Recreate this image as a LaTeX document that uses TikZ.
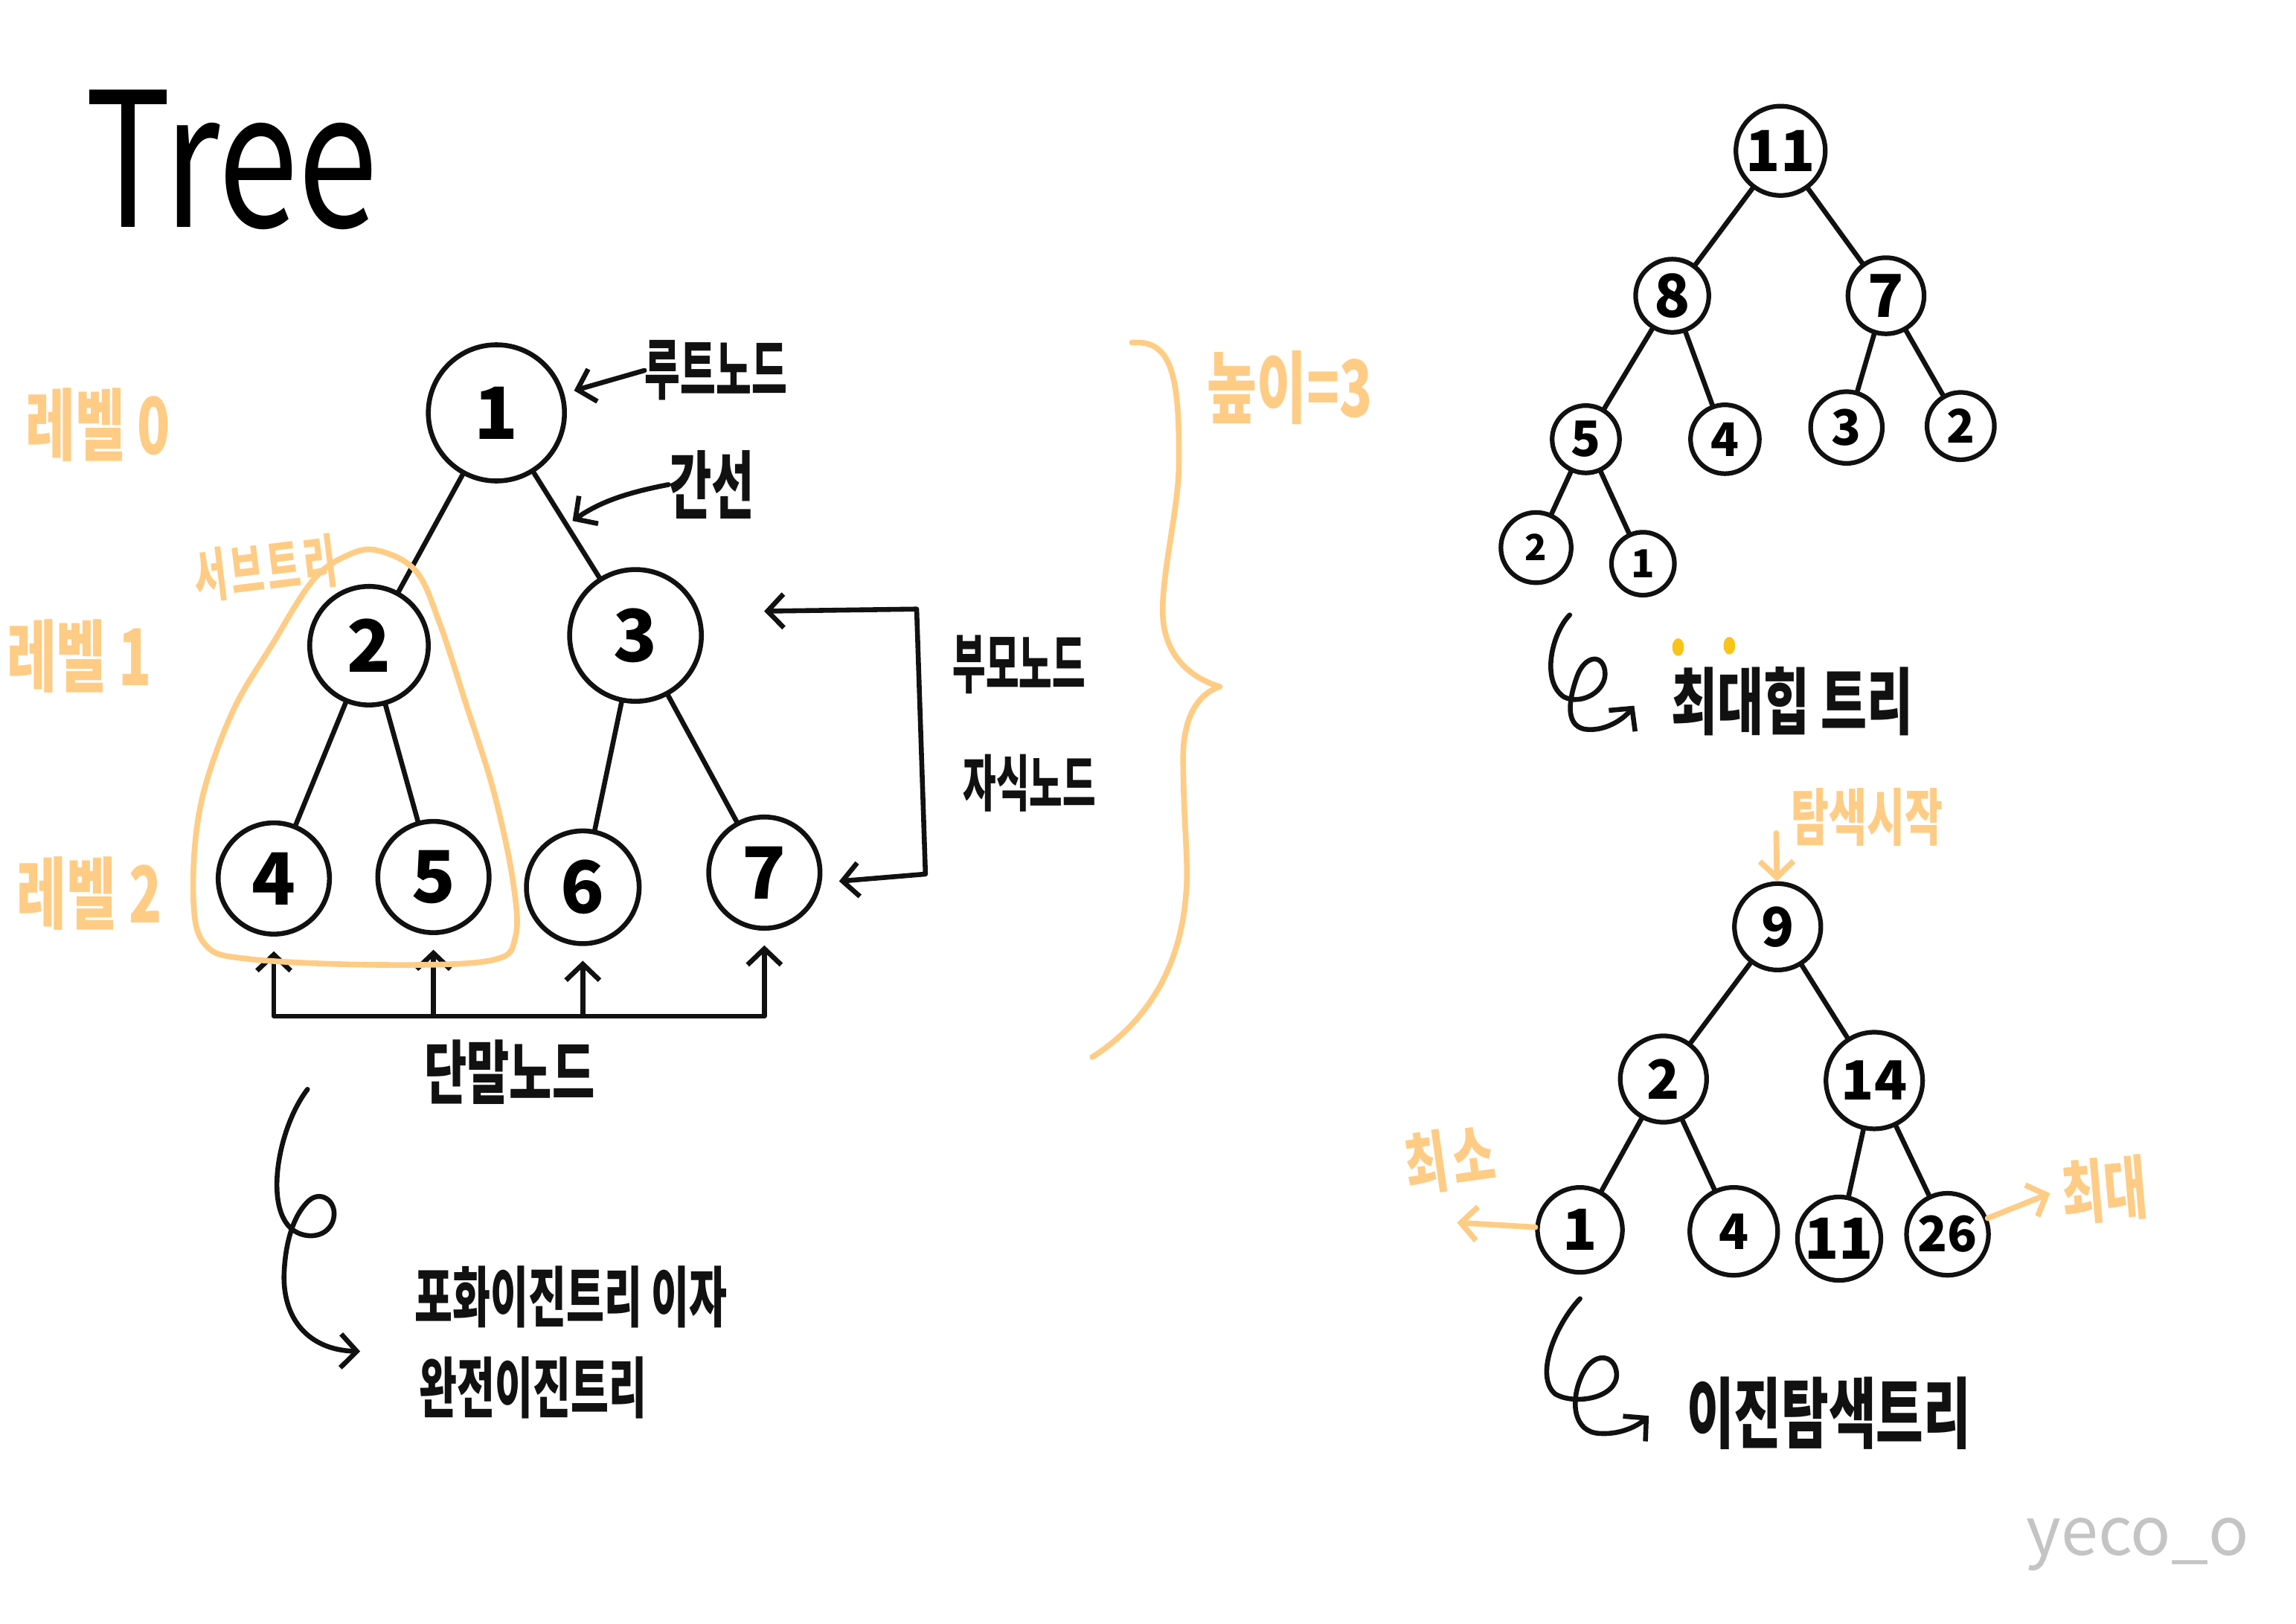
\documentclass[tikz,border=0pt]{standalone}
\usepackage{graphicx}
\usepackage{fontspec}
\setmainfont{Noto Sans CJK KR}
\usetikzlibrary{positioning,arrows.meta,calc}
\definecolor{inkblack}{HTML}{111111}
\definecolor{hlorange}{HTML}{FFCC85}
\definecolor{dotyellow}{HTML}{F8C41A}
\definecolor{signgray}{HTML}{C4C4C4}
\newcommand{\hw}[2][1.6]{\scalebox{1}[#1]{#2}}
\tikzset{
  barb/.tip   ={Straight Barb[length=2.2mm,width=4.6mm]},
  vtx/.style  ={circle,draw=inkblack,line width=1.9pt,inner sep=0pt,font=\fontsize{28}{30}\selectfont\bfseries},
  hvtx/.style ={vtx,line width=1.8pt,font=\fontsize{20}{22}\selectfont\bfseries},
  tvtx/.style ={vtx,line width=1.8pt,font=\fontsize{14}{15}\selectfont\bfseries},
  edge/.style ={draw=inkblack,line width=1.9pt,line cap=round},
  arr/.style  ={-barb,line width=1.9pt,line cap=round,line join=round,draw=inkblack},
  darr/.style ={arr,barb-barb},
  oarr/.style ={arr,draw=hlorange,line width=2.2pt},
  oline/.style={draw=hlorange,line width=2.2pt,line cap=round,line join=round},
  lbl/.style  ={inner sep=0pt,text=inkblack,font=\fontsize{16}{18}\selectfont\bfseries},
  olbl/.style ={inner sep=0pt,text=hlorange,font=\fontsize{21}{23}\selectfont\bfseries},
}
\begin{document}
\begin{tikzpicture}[x=0.2mm,y=-0.2mm]
  \fill[white] (0,0) rectangle (1568,1109);
  \useasboundingbox (0,0) rectangle (1568,1109);

  \node[inner sep=0pt,font=\fontsize{56}{60}\selectfont] (title) at (158,109) {\hw[1.3]{Tree}};

  % binary tree
  \node[vtx,minimum size=18.6mm] (n1) at (339,282) {1};
  \node[vtx,minimum size=16.2mm] (n2) at (252,441) {2};
  \node[vtx,minimum size=18mm]   (n3) at (434,434) {3};
  \node[vtx,minimum size=15.2mm] (n4) at (187,600) {4};
  \node[vtx,minimum size=15.2mm] (n5) at (296,599) {5};
  \node[vtx,minimum size=15.4mm] (n6) at (398,606) {6};
  \node[vtx,minimum size=15.2mm] (n7) at (522,596) {7};

  \draw[edge] (n1) -- (n2);
  \draw[edge] (n1) -- coordinate[pos=0.5] (e13) (n3);
  \draw[edge] (n2) -- (n4);
  \draw[edge] (n2) -- (n5);
  \draw[edge] (n3) -- (n6);
  \draw[edge] (n3) -- (n7);

  \node[lbl,font=\fontsize{15}{17}\selectfont\bfseries] (rootlbl) at (489,253) {\hw[1.7]{루트노드}};
  \node[lbl,font=\fontsize{18}{20}\selectfont\bfseries] (edgelbl) at (486,331) {\hw[1.6]{간선}};
  \draw[arr,shorten >=1.4mm] (rootlbl.west) -- (n1);
  \draw[arr,shorten >=1mm] (edgelbl.west) .. controls (425,337) and (408,344) .. (e13);

  \node[lbl,font=\fontsize{14}{16}\selectfont\bfseries] (parlbl) at (696,454) {\hw[1.8]{부모노드}};
  \node[lbl,font=\fontsize{14}{16}\selectfont\bfseries] (chilbl) at (703,535) {\hw[1.7]{자식노드}};
  \coordinate (pt) at (626,416);
  \coordinate (pb) at (632,597);
  \draw[darr,shorten <=8.8mm,shorten >=2.4mm] (n3.20) -- (pt) -- (pb) -- (n7.-10);

  \coordinate (leafbase) at (355,694);
  \draw[darr,shorten <=2mm,shorten >=2mm] (n4) |- (leafbase) -| (n7);
  \draw[arr,shorten >=2mm] (n5 |- leafbase) -- (n5);
  \draw[arr,shorten >=2mm] (n6 |- leafbase) -- (n6);
  \node[lbl,font=\fontsize{18}{20}\selectfont\bfseries] (leaflbl) at (348,732) {\hw[1.5]{단말노드}};

  \coordinate (c1s) at (210,744);
  \coordinate (c1e) at (246,923);
  \draw[arr] (c1s) .. controls (190,770) and (180,825) .. (200,840) .. controls (208,846) and (222,846) .. (227,835)
    .. controls (232,822) and (220,812) .. (211,820) .. controls (202,828) and (195,845) .. (194,870)
    .. controls (193,900) and (210,922) .. (c1e);
  \node[lbl] (fulllbl) at (390,886) {\hw[1.6]{포화이진트리 이자}};
  \node[lbl] (complbl) at (364,948) {\hw[1.6]{완전이진트리}};

  % orange notes
  \node[olbl] (lv0) at (67,290) {\hw[1.45]{레벨 0}};
  \node[olbl] (lv1) at (54,448) {\hw[1.45]{레벨 1}};
  \node[olbl] (lv2) at (61,610) {\hw[1.45]{레벨 2}};
  \node[olbl,font=\fontsize{14}{16}\selectfont\bfseries\addfontfeature{LetterSpace=10},rotate=7] (sublbl) at (181,388) {\hw[1.6]{서브트리}};
  \draw[oline] plot[smooth cycle,tension=0.6] coordinates {(258,376) (284,390) (300,425) (318,480) (337,540) (350,600) (352,640) (335,656) (260,659) (170,655) (140,645) (132,612) (137,550) (158,488) (186,440) (214,396) (238,379)};

  \draw[oline] (773,234) .. controls (800,232) and (806,255) .. (805,321) .. controls (804,350) and (794,390) .. (794,417)
    .. controls (794,445) and (810,462) .. (833,469) .. controls (815,475) and (808,495) .. (808,517)
    .. controls (808,560) and (812,590) .. (810,610) .. controls (806,665) and (780,700) .. (746,722);
  \node[olbl] (hlbl) at (881,265) {\hw[1.45]{높이=3}};

  % max heap
  \node[hvtx,minimum size=12.2mm,font=\fontsize{22}{24}\selectfont\bfseries] (h11) at (1216,103) {11};
  \node[hvtx,minimum size=10mm,font=\fontsize{23}{24}\selectfont\bfseries] (h8) at (1142,202) {8};
  \node[hvtx,minimum size=10.4mm,font=\fontsize{23}{24}\selectfont\bfseries] (h7) at (1288,202) {7};
  \node[hvtx,minimum size=9.2mm,font=\fontsize{19}{20}\selectfont\bfseries] (h5) at (1083,300) {5};
  \node[hvtx,minimum size=9.4mm,font=\fontsize{18}{20}\selectfont\bfseries] (h4) at (1178,300) {4};
  \node[hvtx,minimum size=9.8mm,font=\fontsize{19}{20}\selectfont\bfseries] (h3) at (1261,292) {3};
  \node[hvtx,minimum size=9.2mm,font=\fontsize{18}{20}\selectfont\bfseries] (h2) at (1339,291) {2};
  \node[tvtx,minimum size=9.6mm] (h2b) at (1049,374) {2};
  \node[tvtx,minimum size=8.6mm,font=\fontsize{15}{16}\selectfont\bfseries] (h1b) at (1122,385) {1};

  \draw[edge] (h11) -- (h8);
  \draw[edge] (h11) -- (h7);
  \draw[edge] (h8) -- (h5);
  \draw[edge] (h8) -- (h4);
  \draw[edge] (h7) -- (h3);
  \draw[edge] (h7) -- (h2);
  \draw[edge] (h5) -- (h2b);
  \draw[edge] (h5) -- (h1b);

  \coordinate (c2s) at (1072,420);
  \coordinate (c2e) at (1116,482);
  \draw[arr] (c2s) .. controls (1060,432) and (1052,465) .. (1068,476) .. controls (1080,482) and (1098,472) .. (1096,458)
    .. controls (1094,446) and (1082,448) .. (1077,462) .. controls (1072,476) and (1068,495) .. (1082,498)
    .. controls (1095,500) and (1108,492) .. (c2e);
  \node[lbl,font=\fontsize{19.5}{21}\selectfont\bfseries] (heaplbl) at (1224,479) {\hw[1.45]{최대힙 트리}};
  \fill[dotyellow] (1146,442) ellipse [x radius=0.8mm,y radius=1.2mm];
  \fill[dotyellow] (1181,441) ellipse [x radius=0.8mm,y radius=1.2mm];

  % binary search tree
  \node[hvtx,minimum size=11.8mm,font=\fontsize{21}{22}\selectfont\bfseries] (b9) at (1214,633) {9};
  \node[hvtx,minimum size=11.8mm,font=\fontsize{21}{22}\selectfont\bfseries] (b2) at (1136,737) {2};
  \node[hvtx,minimum size=13.2mm,font=\fontsize{21}{22}\selectfont\bfseries] (b14) at (1280,738) {14};
  \node[hvtx,minimum size=11.6mm,font=\fontsize{22}{24}\selectfont\bfseries] (b1) at (1079,840) {1};
  \node[hvtx,minimum size=12mm,font=\fontsize{19}{20}\selectfont\bfseries] (b4) at (1184,841) {4};
  \node[hvtx,minimum size=11.4mm,font=\fontsize{22}{24}\selectfont\bfseries] (b11) at (1256,846) {11};
  \node[hvtx,minimum size=11.2mm,font=\fontsize{19}{20}\selectfont\bfseries] (b26) at (1330,843) {26};

  \draw[edge] (b9) -- (b2);
  \draw[edge] (b9) -- (b14);
  \draw[edge] (b2) -- (b1);
  \draw[edge] (b2) -- (b4);
  \draw[edge] (b14) -- (b11);
  \draw[edge] (b14) -- (b26);

  \node[olbl,font=\fontsize{16}{18}\selectfont\bfseries] (startlbl) at (1275,558) {\hw[1.5]{탐색시작}};
  \coordinate (tsa) at (1213,569);
  \draw[oarr] (tsa) -- (b9);
  \node[olbl,font=\fontsize{18}{20}\selectfont\bfseries\addfontfeature{LetterSpace=10},rotate=8] (minlbl) at (990,792) {\hw[1.45]{최소}};
  \coordinate (mina) at (995,835);
  \draw[oarr] (b1) -- (mina);
  \node[olbl,font=\fontsize{18}{20}\selectfont\bfseries,rotate=5] (maxlbl) at (1437,813) {\hw[1.5]{최대}};
  \coordinate (maxa) at (1400,815);
  \draw[oarr] (b26) -- (maxa);

  \coordinate (c3s) at (1079,887);
  \coordinate (c3e) at (1126,967);
  \draw[arr] (c3s) .. controls (1062,905) and (1048,940) .. (1062,952) .. controls (1075,960) and (1105,955) .. (1104,938)
    .. controls (1103,925) and (1088,922) .. (1080,940) .. controls (1072,958) and (1075,978) .. (1092,979)
    .. controls (1105,980) and (1117,975) .. (c3e);
  \node[lbl,font=\fontsize{20}{22}\selectfont\bfseries] (bstlbl) at (1249,965) {\hw[1.5]{이진탐색트리}};

  \node[inner sep=0pt,text=signgray,font=\fontsize{26}{28}\selectfont] (sign) at (1460,1055) {yeco\_o};
\end{tikzpicture}
\end{document}
